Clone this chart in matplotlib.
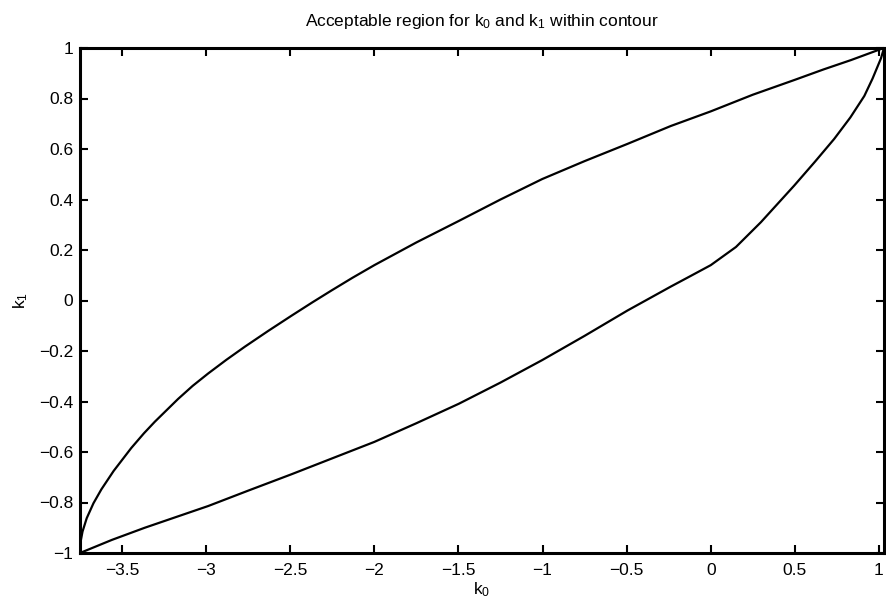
import numpy as np
import matplotlib
matplotlib.use('Agg')
import matplotlib.pyplot as plt

# contour boundary
upper_k0 = [-3.75, -3.745, -3.735, -3.71, -3.67, -3.623, -3.55, -3.445, -3.37,
            -3.305, -3.167, -3.08, -2.988, -2.88, -2.77, -2.63, -2.492, -2.37,
            -2.254, -2.13, -2.0, -1.75, -1.498, -1.25, -1.002, -0.75, -0.496,
            -0.238, 0.0, 0.25, 0.496, 0.67, 0.833, 1.012, 1.03]
upper_k1 = [-1.0, -0.95, -0.915, -0.862, -0.803, -0.748, -0.675, -0.584, -0.526,
            -0.48, -0.39, -0.338, -0.289, -0.235, -0.183, -0.12, -0.06, -0.008,
            0.04, 0.09, 0.14, 0.23, 0.315, 0.40, 0.481, 0.552, 0.620,
            0.691, 0.749, 0.815, 0.873, 0.915, 0.952, 0.996, 1.0]

lower_k0 = [-3.75, -3.56, -3.365, -2.988, -2.75, -2.492, -2.25, -2.0, -1.75,
            -1.498, -1.25, -1.002, -0.75, -0.496, -0.238, -0.12, 0.0, 0.15,
            0.298, 0.496, 0.62, 0.734, 0.83, 0.913, 0.962, 1.012, 1.03]
lower_k1 = [-1.0, -0.948, -0.900, -0.814, -0.753, -0.688, -0.625, -0.56, -0.486,
            -0.409, -0.325, -0.236, -0.14, -0.04, 0.055, 0.097, 0.14, 0.212,
            0.31, 0.455, 0.55, 0.640, 0.725, 0.81, 0.879, 0.959, 1.0]

x_ticks = [-3.5, -3, -2.5, -2, -1.5, -1, -0.5, 0, 0.5, 1]
y_ticks = [-1, -0.8, -0.6, -0.4, -0.2, 0, 0.2, 0.4, 0.6, 0.8, 1]

plt.rcParams['font.family'] = 'Liberation Sans'
plt.rcParams['mathtext.fontset'] = 'custom'
plt.rcParams['mathtext.rm'] = 'Liberation Sans'
plt.rcParams['mathtext.it'] = 'Liberation Sans'

fig = plt.figure(figsize=(8.86, 6.06), dpi=100)
ax = fig.add_axes([80 / 886, 1 - 553 / 606, (884 - 80) / 886, (553 - 48) / 606])

ax.plot(upper_k0, upper_k1, color='black', lw=1.6)
ax.plot(lower_k0, lower_k1, color='black', lw=1.6)

ax.set_xlim(-3.75, 1.03)
ax.set_ylim(-1, 1)
ax.set_xticks(x_ticks)
ax.set_yticks(y_ticks)
ax.set_xticklabels([f'{t:g}'.replace('-', '\u2212') for t in x_ticks])
ax.set_yticklabels([f'{t:g}'.replace('-', '\u2212') for t in y_ticks])

ax.tick_params(direction='in', length=6, width=1.5, top=True, right=True,
               labelsize=12.5)
ax.tick_params(axis='x', pad=7)
ax.tick_params(axis='y', pad=5)
for s in ax.spines.values():
    s.set_linewidth(2.2)

ax.set_title(r'Acceptable region for $\mathregular{k_0}$ and $\mathregular{k_1}$ within contour',
             fontsize=12.5, pad=16)
ax.set_xlabel(r'$\mathregular{k_0}$', fontsize=12.5, labelpad=2)
ax.set_ylabel(r'$\mathregular{k_1}$', fontsize=12.5, labelpad=6)

plt.savefig('out.png', dpi=100)
